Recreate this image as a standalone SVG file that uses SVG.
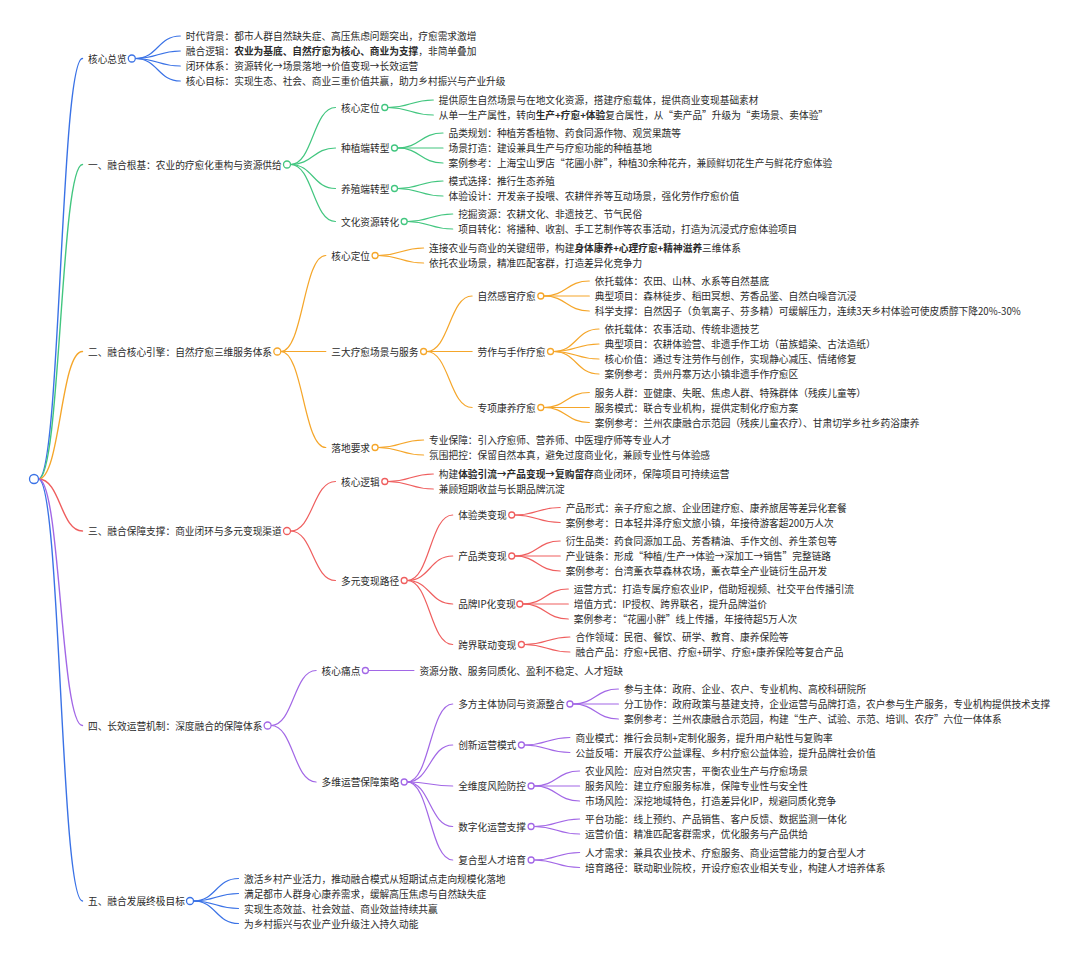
<svg xmlns="http://www.w3.org/2000/svg" width="1080" height="958" viewBox="0 0 1080 958">
<style>
text { font-family: "Noto Sans CJK SC", "Noto Sans", sans-serif; font-size: 9.7px; fill: #2b2b2b; dominant-baseline: central; }
.b { font-weight: 700; }
#connectors path { fill: none; stroke-width: 1.2; stroke-linecap: round; }
#connectors path.k1 { stroke-width: 1.4; }
circle { fill: #ffffff; stroke-width: 1.3; }
.blue { stroke: #3a72e6; }
.green { stroke: #42c67f; }
.orange { stroke: #f5a62a; }
.red { stroke: #ef5e5e; }
.purple { stroke: #a267e6; }
</style>
<rect width="1080" height="958" fill="#ffffff"/>
<g id="connectors">
  <g class="blue">
    <path class="k1" d="M38.5,479 C60.5,479 60.5,58.5 82.5,58.5"/>
    <path class="k1" d="M38.5,479 C60.5,479 60.5,901 82.5,901"/>
    <path d="M135.3,58.5 C157.8,58.5 157.8,36 180.3,36"/>
    <path d="M135.3,58.5 C157.8,58.5 157.8,51 180.3,51"/>
    <path d="M135.3,58.5 C157.8,58.5 157.8,66 180.3,66"/>
    <path d="M135.3,58.5 C157.8,58.5 157.8,81 180.3,81"/>
    <path d="M193.5,901 C216,901 216,878.5 238.5,878.5"/>
    <path d="M193.5,901 C216,901 216,893.5 238.5,893.5"/>
    <path d="M193.5,901 C216,901 216,908.5 238.5,908.5"/>
    <path d="M193.5,901 C216,901 216,923.5 238.5,923.5"/>
  </g>
  <g class="green">
    <path class="k1" d="M38.5,479 C60.5,479 60.5,164.5 82.5,164.5"/>
    <path d="M290.5,164.5 C313,164.5 313,107.5 335.5,107.5"/>
    <path d="M290.5,164.5 C313,164.5 313,148 335.5,148"/>
    <path d="M290.5,164.5 C313,164.5 313,188.5 335.5,188.5"/>
    <path d="M290.5,164.5 C313,164.5 313,221.5 335.5,221.5"/>
    <path d="M387.8,107.5 C410.55,107.5 410.55,100 433.3,100"/>
    <path d="M387.8,107.5 C410.55,107.5 410.55,115 433.3,115"/>
    <path d="M397.5,148 C420.25,148 420.25,133 443,133"/>
    <path d="M397.5,148 L443,148"/>
    <path d="M397.5,148 C420.25,148 420.25,163 443,163"/>
    <path d="M397.5,188.5 C420.25,188.5 420.25,181 443,181"/>
    <path d="M397.5,188.5 C420.25,188.5 420.25,196 443,196"/>
    <path d="M407.2,221.5 C429.95,221.5 429.95,214 452.7,214"/>
    <path d="M407.2,221.5 C429.95,221.5 429.95,229 452.7,229"/>
  </g>
  <g class="orange">
    <path class="k1" d="M38.5,479 C60.5,479 60.5,351.5 82.5,351.5"/>
    <path d="M280.8,351.5 C303.3,351.5 303.3,255.5 325.8,255.5"/>
    <path d="M280.8,351.5 L325.8,351.5"/>
    <path d="M280.8,351.5 C303.3,351.5 303.3,447.5 325.8,447.5"/>
    <path d="M378.1,255.5 C400.85,255.5 400.85,248 423.6,248"/>
    <path d="M378.1,255.5 C400.85,255.5 400.85,263 423.6,263"/>
    <path d="M426.6,351.5 C449.35,351.5 449.35,296 472.1,296"/>
    <path d="M426.6,351.5 L472.1,351.5"/>
    <path d="M426.6,351.5 C449.35,351.5 449.35,407.5 472.1,407.5"/>
    <path d="M543.8,296 C566.55,296 566.55,281 589.3,281"/>
    <path d="M543.8,296 L589.3,296"/>
    <path d="M543.8,296 C566.55,296 566.55,311 589.3,311"/>
    <path d="M553.5,351.5 C576.25,351.5 576.25,329 599,329"/>
    <path d="M553.5,351.5 C576.25,351.5 576.25,344 599,344"/>
    <path d="M553.5,351.5 C576.25,351.5 576.25,359 599,359"/>
    <path d="M553.5,351.5 C576.25,351.5 576.25,374 599,374"/>
    <path d="M543.8,407.5 C566.55,407.5 566.55,392.5 589.3,392.5"/>
    <path d="M543.8,407.5 L589.3,407.5"/>
    <path d="M543.8,407.5 C566.55,407.5 566.55,422.5 589.3,422.5"/>
    <path d="M378.1,447.5 C400.85,447.5 400.85,440 423.6,440"/>
    <path d="M378.1,447.5 C400.85,447.5 400.85,455 423.6,455"/>
  </g>
  <g class="red">
    <path class="k1" d="M38.5,479 C60.5,479 60.5,531 82.5,531"/>
    <path d="M290.5,531 C313,531 313,481.5 335.5,481.5"/>
    <path d="M290.5,531 C313,531 313,580.5 335.5,580.5"/>
    <path d="M387.8,481.5 C410.55,481.5 410.55,474 433.3,474"/>
    <path d="M387.8,481.5 C410.55,481.5 410.55,489 433.3,489"/>
    <path d="M407.2,580.5 C429.95,580.5 429.95,515 452.7,515"/>
    <path d="M407.2,580.5 C429.95,580.5 429.95,556 452.7,556"/>
    <path d="M407.2,580.5 C429.95,580.5 429.95,604 452.7,604"/>
    <path d="M407.2,580.5 C429.95,580.5 429.95,644.5 452.7,644.5"/>
    <path d="M514.7,515 C537.45,515 537.45,507.5 560.2,507.5"/>
    <path d="M514.7,515 C537.45,515 537.45,522.5 560.2,522.5"/>
    <path d="M514.7,556 C537.45,556 537.45,541 560.2,541"/>
    <path d="M514.7,556 L560.2,556"/>
    <path d="M514.7,556 C537.45,556 537.45,571 560.2,571"/>
    <path d="M522.8,604 C545.55,604 545.55,589 568.3,589"/>
    <path d="M522.8,604 L568.3,604"/>
    <path d="M522.8,604 C545.55,604 545.55,619 568.3,619"/>
    <path d="M524.4,644.5 C547.15,644.5 547.15,637 569.9,637"/>
    <path d="M524.4,644.5 C547.15,644.5 547.15,652 569.9,652"/>
  </g>
  <g class="purple">
    <path class="k1" d="M38.5,479 C60.5,479 60.5,725.5 82.5,725.5"/>
    <path d="M271.1,725.5 C293.6,725.5 293.6,670.5 316.1,670.5"/>
    <path d="M271.1,725.5 C293.6,725.5 293.6,782 316.1,782"/>
    <path d="M368.4,670.5 L413.9,670.5"/>
    <path d="M407.2,782 C429.95,782 429.95,704 452.7,704"/>
    <path d="M407.2,782 C429.95,782 429.95,745 452.7,745"/>
    <path d="M407.2,782 C429.95,782 429.95,786 452.7,786"/>
    <path d="M407.2,782 C429.95,782 429.95,826.5 452.7,826.5"/>
    <path d="M407.2,782 C429.95,782 429.95,860 452.7,860"/>
    <path d="M572.9,704 C595.65,704 595.65,689 618.4,689"/>
    <path d="M572.9,704 L618.4,704"/>
    <path d="M572.9,704 C595.65,704 595.65,719 618.4,719"/>
    <path d="M524.4,745 C547.15,745 547.15,737.5 569.9,737.5"/>
    <path d="M524.4,745 C547.15,745 547.15,752.5 569.9,752.5"/>
    <path d="M534.1,786 C556.85,786 556.85,771 579.6,771"/>
    <path d="M534.1,786 L579.6,786"/>
    <path d="M534.1,786 C556.85,786 556.85,801 579.6,801"/>
    <path d="M534.1,826.5 C556.85,826.5 556.85,819 579.6,819"/>
    <path d="M534.1,826.5 C556.85,826.5 556.85,834 579.6,834"/>
    <path d="M534.1,860 C556.85,860 556.85,852.5 579.6,852.5"/>
    <path d="M534.1,860 C556.85,860 556.85,867.5 579.6,867.5"/>
  </g>
</g>

<g id="root"><circle class="blue" cx="34" cy="479" r="4.5" stroke-width="1.5"/></g>

<!-- Section 0 -->
<g id="s0">
  <text x="88" y="58.5">核心总览</text>
  <circle class="blue" cx="131.8" cy="58.5" r="3.5"/>
</g>
<g id="s0-1"><text x="185.8" y="36">时代背景：都市人群自然缺失症、高压焦虑问题突出，疗愈需求激增</text></g>
<g id="s0-2"><text x="185.8" y="51">融合逻辑：<tspan class="b">农业为基底、自然疗愈为核心、商业为支撑</tspan>，非简单叠加</text></g>
<g id="s0-3"><text x="185.8" y="66">闭环体系：资源转化→场景落地→价值变现→长效运营</text></g>
<g id="s0-4"><text x="185.8" y="81">核心目标：实现生态、社会、商业三重价值共赢，助力乡村振兴与产业升级</text></g>

<!-- Section 1 -->
<g id="s1">
  <text x="88" y="164.5">一、融合根基：农业的疗愈化重构与资源供给</text>
  <circle class="green" cx="287" cy="164.5" r="3.5"/>
</g>
<g id="s1-a"><text x="341" y="107.5">核心定位</text><circle class="green" cx="384.8" cy="107.5" r="3"/></g>
<g id="s1-a1"><text x="438.8" y="100">提供原生自然场景与在地文化资源，搭建疗愈载体，提供商业变现基础素材</text></g>
<g id="s1-a2"><text x="438.8" y="115">从单一生产属性，转向<tspan class="b">生产+疗愈+体验</tspan>复合属性，从“卖产品”升级为“卖场景、卖体验”</text></g>
<g id="s1-b"><text x="341" y="148">种植端转型</text><circle class="green" cx="394.5" cy="148" r="3"/></g>
<g id="s1-b1"><text x="448.5" y="133">品类规划：种植芳香植物、药食同源作物、观赏果蔬等</text></g>
<g id="s1-b2"><text x="448.5" y="148">场景打造：建设兼具生产与疗愈功能的种植基地</text></g>
<g id="s1-b3"><text x="448.5" y="163">案例参考：上海宝山罗店“花圃小胖”，种植30余种花卉，兼顾鲜切花生产与鲜花疗愈体验</text></g>
<g id="s1-c"><text x="341" y="188.5">养殖端转型</text><circle class="green" cx="394.5" cy="188.5" r="3"/></g>
<g id="s1-c1"><text x="448.5" y="181">模式选择：推行生态养殖</text></g>
<g id="s1-c2"><text x="448.5" y="196">体验设计：开发亲子投喂、农耕伴养等互动场景，强化劳作疗愈价值</text></g>
<g id="s1-d"><text x="341" y="221.5">文化资源转化</text><circle class="green" cx="404.2" cy="221.5" r="3"/></g>
<g id="s1-d1"><text x="458.2" y="214">挖掘资源：农耕文化、非遗技艺、节气民俗</text></g>
<g id="s1-d2"><text x="458.2" y="229">项目转化：将播种、收割、手工艺制作等农事活动，打造为沉浸式疗愈体验项目</text></g>

<!-- Section 2 -->
<g id="s2">
  <text x="88" y="351.5">二、融合核心引擎：自然疗愈三维服务体系</text>
  <circle class="orange" cx="277.3" cy="351.5" r="3.5"/>
</g>
<g id="s2-a"><text x="331.3" y="255.5">核心定位</text><circle class="orange" cx="375.1" cy="255.5" r="3"/></g>
<g id="s2-a1"><text x="429.1" y="248">连接农业与商业的关键纽带，构建<tspan class="b">身体康养+心理疗愈+精神滋养</tspan>三维体系</text></g>
<g id="s2-a2"><text x="429.1" y="263">依托农业场景，精准匹配客群，打造差异化竞争力</text></g>
<g id="s2-b"><text x="331.3" y="351.5">三大疗愈场景与服务</text><circle class="orange" cx="423.6" cy="351.5" r="3"/></g>
<g id="s2-b1"><text x="477.6" y="296">自然感官疗愈</text><circle class="orange" cx="540.8" cy="296" r="3"/></g>
<g id="s2-b1-1"><text x="594.8" y="281">依托载体：农田、山林、水系等自然基底</text></g>
<g id="s2-b1-2"><text x="594.8" y="296">典型项目：森林徒步、稻田冥想、芳香品鉴、自然白噪音沉浸</text></g>
<g id="s2-b1-3"><text x="594.8" y="311">科学支撑：自然因子（负氧离子、芬多精）可缓解压力，连续3天乡村体验可使皮质醇下降20%-30%</text></g>
<g id="s2-b2"><text x="477.6" y="351.5">劳作与手作疗愈</text><circle class="orange" cx="550.5" cy="351.5" r="3"/></g>
<g id="s2-b2-1"><text x="604.5" y="329">依托载体：农事活动、传统非遗技艺</text></g>
<g id="s2-b2-2"><text x="604.5" y="344">典型项目：农耕体验营、非遗手作工坊（苗族蜡染、古法造纸）</text></g>
<g id="s2-b2-3"><text x="604.5" y="359">核心价值：通过专注劳作与创作，实现静心减压、情绪修复</text></g>
<g id="s2-b2-4"><text x="604.5" y="374">案例参考：贵州丹寨万达小镇非遗手作疗愈区</text></g>
<g id="s2-b3"><text x="477.6" y="407.5">专项康养疗愈</text><circle class="orange" cx="540.8" cy="407.5" r="3"/></g>
<g id="s2-b3-1"><text x="594.8" y="392.5">服务人群：亚健康、失眠、焦虑人群、特殊群体（残疾儿童等）</text></g>
<g id="s2-b3-2"><text x="594.8" y="407.5">服务模式：联合专业机构，提供定制化疗愈方案</text></g>
<g id="s2-b3-3"><text x="594.8" y="422.5">案例参考：兰州农康融合示范园（残疾儿童农疗）、甘肃切学乡社乡药浴康养</text></g>
<g id="s2-c"><text x="331.3" y="447.5">落地要求</text><circle class="orange" cx="375.1" cy="447.5" r="3"/></g>
<g id="s2-c1"><text x="429.1" y="440">专业保障：引入疗愈师、营养师、中医理疗师等专业人才</text></g>
<g id="s2-c2"><text x="429.1" y="455">氛围把控：保留自然本真，避免过度商业化，兼顾专业性与体验感</text></g>

<!-- Section 3 -->
<g id="s3">
  <text x="88" y="531">三、融合保障支撑：商业闭环与多元变现渠道</text>
  <circle class="red" cx="287" cy="531" r="3.5"/>
</g>
<g id="s3-a"><text x="341" y="481.5">核心逻辑</text><circle class="red" cx="384.8" cy="481.5" r="3"/></g>
<g id="s3-a1"><text x="438.8" y="474">构建<tspan class="b">体验引流→产品变现→复购留存</tspan>商业闭环，保障项目可持续运营</text></g>
<g id="s3-a2"><text x="438.8" y="489">兼顾短期收益与长期品牌沉淀</text></g>
<g id="s3-b"><text x="341" y="580.5">多元变现路径</text><circle class="red" cx="404.2" cy="580.5" r="3"/></g>
<g id="s3-b1"><text x="458.2" y="515">体验类变现</text><circle class="red" cx="511.7" cy="515" r="3"/></g>
<g id="s3-b1-1"><text x="565.7" y="507.5">产品形式：亲子疗愈之旅、企业团建疗愈、康养旅居等差异化套餐</text></g>
<g id="s3-b1-2"><text x="565.7" y="522.5">案例参考：日本轻井泽疗愈文旅小镇，年接待游客超200万人次</text></g>
<g id="s3-b2"><text x="458.2" y="556">产品类变现</text><circle class="red" cx="511.7" cy="556" r="3"/></g>
<g id="s3-b2-1"><text x="565.7" y="541">衍生品类：药食同源加工品、芳香精油、手作文创、养生茶包等</text></g>
<g id="s3-b2-2"><text x="565.7" y="556">产业链条：形成“种植/生产→体验→深加工→销售”完整链路</text></g>
<g id="s3-b2-3"><text x="565.7" y="571">案例参考：台湾薰衣草森林农场，薰衣草全产业链衍生品开发</text></g>
<g id="s3-b3"><text x="458.2" y="604">品牌IP化变现</text><circle class="red" cx="519.8" cy="604" r="3"/></g>
<g id="s3-b3-1"><text x="573.8" y="589">运营方式：打造专属疗愈农业IP，借助短视频、社交平台传播引流</text></g>
<g id="s3-b3-2"><text x="573.8" y="604">增值方式：IP授权、跨界联名，提升品牌溢价</text></g>
<g id="s3-b3-3"><text x="573.8" y="619">案例参考：“花圃小胖”线上传播，年接待超5万人次</text></g>
<g id="s3-b4"><text x="458.2" y="644.5">跨界联动变现</text><circle class="red" cx="521.4" cy="644.5" r="3"/></g>
<g id="s3-b4-1"><text x="575.4" y="637">合作领域：民宿、餐饮、研学、教育、康养保险等</text></g>
<g id="s3-b4-2"><text x="575.4" y="652">融合产品：疗愈+民宿、疗愈+研学、疗愈+康养保险等复合产品</text></g>

<!-- Section 4 -->
<g id="s4">
  <text x="88" y="725.5">四、长效运营机制：深度融合的保障体系</text>
  <circle class="purple" cx="267.6" cy="725.5" r="3.5"/>
</g>
<g id="s4-a"><text x="321.6" y="670.5">核心痛点</text><circle class="purple" cx="365.4" cy="670.5" r="3"/></g>
<g id="s4-a1"><text x="419.4" y="670.5">资源分散、服务同质化、盈利不稳定、人才短缺</text></g>
<g id="s4-b"><text x="321.6" y="782">多维运营保障策略</text><circle class="purple" cx="404.2" cy="782" r="3"/></g>
<g id="s4-b1"><text x="458.2" y="704">多方主体协同与资源整合</text><circle class="purple" cx="569.9" cy="704" r="3"/></g>
<g id="s4-b1-1"><text x="623.9" y="689">参与主体：政府、企业、农户、专业机构、高校科研院所</text></g>
<g id="s4-b1-2"><text x="623.9" y="704">分工协作：政府政策与基建支持，企业运营与品牌打造，农户参与生产服务，专业机构提供技术支撑</text></g>
<g id="s4-b1-3"><text x="623.9" y="719">案例参考：兰州农康融合示范园，构建“生产、试验、示范、培训、农疗”六位一体体系</text></g>
<g id="s4-b2"><text x="458.2" y="745">创新运营模式</text><circle class="purple" cx="521.4" cy="745" r="3"/></g>
<g id="s4-b2-1"><text x="575.4" y="737.5">商业模式：推行会员制+定制化服务，提升用户粘性与复购率</text></g>
<g id="s4-b2-2"><text x="575.4" y="752.5">公益反哺：开展农疗公益课程、乡村疗愈公益体验，提升品牌社会价值</text></g>
<g id="s4-b3"><text x="458.2" y="786">全维度风险防控</text><circle class="purple" cx="531.1" cy="786" r="3"/></g>
<g id="s4-b3-1"><text x="585.1" y="771">农业风险：应对自然灾害，平衡农业生产与疗愈场景</text></g>
<g id="s4-b3-2"><text x="585.1" y="786">服务风险：建立疗愈服务标准，保障专业性与安全性</text></g>
<g id="s4-b3-3"><text x="585.1" y="801">市场风险：深挖地域特色，打造差异化IP，规避同质化竞争</text></g>
<g id="s4-b4"><text x="458.2" y="826.5">数字化运营支撑</text><circle class="purple" cx="531.1" cy="826.5" r="3"/></g>
<g id="s4-b4-1"><text x="585.1" y="819">平台功能：线上预约、产品销售、客户反馈、数据监测一体化</text></g>
<g id="s4-b4-2"><text x="585.1" y="834">运营价值：精准匹配客群需求，优化服务与产品供给</text></g>
<g id="s4-b5"><text x="458.2" y="860">复合型人才培育</text><circle class="purple" cx="531.1" cy="860" r="3"/></g>
<g id="s4-b5-1"><text x="585.1" y="852.5">人才需求：兼具农业技术、疗愈服务、商业运营能力的复合型人才</text></g>
<g id="s4-b5-2"><text x="585.1" y="867.5">培育路径：联动职业院校，开设疗愈农业相关专业，构建人才培养体系</text></g>

<!-- Section 5 -->
<g id="s5">
  <text x="88" y="901">五、融合发展终极目标</text>
  <circle class="blue" cx="190" cy="901" r="3.5"/>
</g>
<g id="s5-1"><text x="244" y="878.5">激活乡村产业活力，推动融合模式从短期试点走向规模化落地</text></g>
<g id="s5-2"><text x="244" y="893.5">满足都市人群身心康养需求，缓解高压焦虑与自然缺失症</text></g>
<g id="s5-3"><text x="244" y="908.5">实现生态效益、社会效益、商业效益持续共赢</text></g>
<g id="s5-4"><text x="244" y="923.5">为乡村振兴与农业产业升级注入持久动能</text></g>
</svg>
